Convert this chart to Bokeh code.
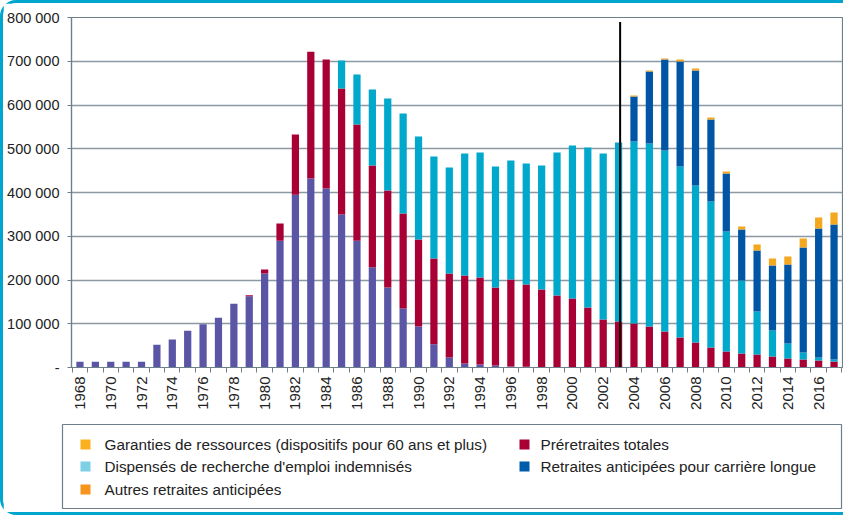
import math
from bokeh.plotting import figure
from bokeh.models import ColumnDataSource, FixedTicker, Range1d
from bokeh.layouts import column
from bokeh.core.properties import value
from bokeh.embed import file_html
from bokeh.resources import INLINE

# ---------------- data ----------------
years = list(range(1968, 2018))

garanties = [13000, 13000, 13000, 13000, 13000,
             52000, 64000, 84000, 99000, 114000,
             146000, 163000, 215000, 290000, 395000,
             432000, 409000, 350000, 290000, 229000,
             183000, 135000, 94000, 53000, 23000,
             9000, 7000, 4500, 2500, 1500,
             1000, 500, 0, 0, 0,
             0, 0, 0, 0, 0,
             0, 0, 0, 0, 0,
             0, 0, 0, 0, 0]

preretraites = [0, 0, 0, 0, 0,
                0, 0, 0, 0, 0,
                0, 2000, 9000, 39000, 137600,
                290000, 295000, 287700, 265400, 232700,
                221600, 217000, 198600, 196100, 191900,
                201300, 198700, 178400, 198600, 188200,
                177300, 164100, 157700, 137100, 109700,
                105100, 100600, 93700, 82300, 68600,
                57100, 45700, 36600, 32000, 29700,
                25100, 20600, 18300, 16000, 13700]

dispenses = [0, 0, 0, 0, 0,
             0, 0, 0, 0, 0,
             0, 0, 0, 0, 0,
             0, 0, 64000, 114300, 173700,
             210300, 228600, 235400, 233200, 242100,
             278800, 285700, 276500, 272000, 276600,
             283400, 326800, 349700, 365800, 379400,
             409200, 416000, 418300, 413700, 390800,
             358900, 333700, 274300, 166900, 98300,
             59500, 34300, 16000, 6900, 4600]

carriere_longue = [0] * 36 + [102800, 164600, 208000, 240000,
                              262900, 187500, 132500, 116500, 139400,
                              148500, 180500, 240000, 294800, 308600]

autres = [0] * 36 + [2300, 2300, 2300, 4600,
                     4500, 4500, 4600, 6900, 13700,
                     16000, 18300, 20600, 25200, 27400]

series_keys = ["garanties", "preretraites", "dispenses", "carriere_longue", "autres"]
bar_colors = ["#5A56A5", "#A80034", "#00A8CC", "#0055A4", "#F4A81D"]

x_tick_years = list(range(1968, 2017, 2))
x_tick_labels = [str(y) for y in x_tick_years]
y_ticks = [0, 100000, 200000, 300000, 400000, 500000, 600000, 700000, 800000]
y_tick_labels = ["-", "100 000", "200 000", "300 000", "400 000",
                 "500 000", "600 000", "700 000", "800 000"]

reform_year = 2003.1
reform_top = 790000

legend_labels_col1 = ["Garanties de ressources (dispositifs pour 60 ans et plus)",
                      "Dispensés de recherche d'emploi indemnisés",
                      "Autres retraites anticipées"]
legend_colors_col1 = ["#FBB11E", "#7DD0E6", "#F7941D"]
legend_labels_col2 = ["Préretraites totales",
                      "Retraites anticipées pour carrière longue"]
legend_colors_col2 = ["#A80034", "#005BAA"]

FONT = "Liberation Sans"
GRAY = "#6E7F8C"
TXT = "#222222"

# ---------------- chart ----------------
src = ColumnDataSource(dict(year=years, garanties=garanties, preretraites=preretraites,
                            dispenses=dispenses, carriere_longue=carriere_longue,
                            autres=autres))

p = figure(width=840, height=415, output_backend="svg", toolbar_location=None,
           x_range=Range1d(1967.45, 2017.55), y_range=Range1d(0, 800000),
           min_border_left=68, min_border_right=1, min_border_top=14,
           min_border_bottom=51, frame_align=False)

p.vbar_stack(series_keys, x="year", width=0.47, color=bar_colors, source=src,
             line_width=0)

p.segment(x0=[reform_year], y0=[0], x1=[reform_year], y1=[reform_top],
          line_color="black", line_width=2)

p.outline_line_color = GRAY
p.outline_line_width = 1.2
p.xgrid.grid_line_color = None
p.ygrid.ticker = FixedTicker(ticks=y_ticks)
p.ygrid.grid_line_color = "#8C99A3"
p.ygrid.grid_line_width = 1.6

p.yaxis.ticker = FixedTicker(ticks=y_ticks)
p.yaxis.major_label_overrides = {t: l for t, l in zip(y_ticks, y_tick_labels)}
p.yaxis.axis_line_color = GRAY
p.yaxis.axis_line_width = 1.2
p.yaxis.major_tick_line_color = GRAY
p.yaxis.major_tick_out = 4
p.yaxis.major_tick_in = 0
p.yaxis.minor_tick_line_color = None
p.yaxis.major_label_standoff = 8
p.yaxis.major_label_text_font = FONT
p.yaxis.major_label_text_font_size = "14.5px"
p.yaxis.major_label_text_color = TXT

p.xaxis.ticker = FixedTicker(ticks=x_tick_years,
                             minor_ticks=[y - 0.5 for y in years] + [years[-1] + 0.5])
p.xaxis.major_label_overrides = {t: l for t, l in zip(x_tick_years, x_tick_labels)}
p.xaxis.major_label_orientation = math.pi / 2
p.xaxis.axis_line_color = GRAY
p.xaxis.axis_line_width = 1.2
p.xaxis.major_tick_out = 0
p.xaxis.major_tick_in = 0
p.xaxis.minor_tick_out = 5
p.xaxis.minor_tick_in = 0
p.xaxis.minor_tick_line_color = GRAY
p.xaxis.major_label_standoff = 4
p.xaxis.major_label_text_font = FONT
p.xaxis.major_label_text_font_size = "15px"
p.xaxis.major_label_text_color = TXT

# ---------------- legend ----------------
leg = figure(width=840, height=94, output_backend="svg", toolbar_location=None,
             x_range=Range1d(0, 779), y_range=Range1d(0, 84),
             min_border_left=59, min_border_right=2, min_border_top=6,
             min_border_bottom=4, frame_align=False)
leg.axis.visible = False
leg.grid.visible = False
leg.outline_line_color = GRAY
leg.outline_line_width = 1.2

row_y = [64, 42, 19]
LEG_FS = "15.3px"
leg.scatter(x=[23] * 3, y=row_y, marker="square", size=10,
            color=legend_colors_col1, line_width=0)
leg.text(x=[42] * 3, y=row_y, text=legend_labels_col1, text_baseline="middle",
         text_font=value(FONT), text_font_size=LEG_FS, text_color=TXT)
leg.scatter(x=[462] * 2, y=row_y[:2], marker="square", size=10,
            color=legend_colors_col2, line_width=0)
leg.text(x=[478] * 2, y=row_y[:2], text=legend_labels_col2, text_baseline="middle",
         text_font=value(FONT), text_font_size=LEG_FS, text_color=TXT)

layout = column(p, leg, spacing=0,
                styles={"border-left": "3px solid #00A5CF",
                        "border-top": "3px solid #00A5CF",
                        "border-bottom": "3px solid #00A5CF",
                        "border-top-left-radius": "16px",
                        "border-bottom-left-radius": "16px"})

open("out.html", "w").write(file_html(layout, INLINE))
